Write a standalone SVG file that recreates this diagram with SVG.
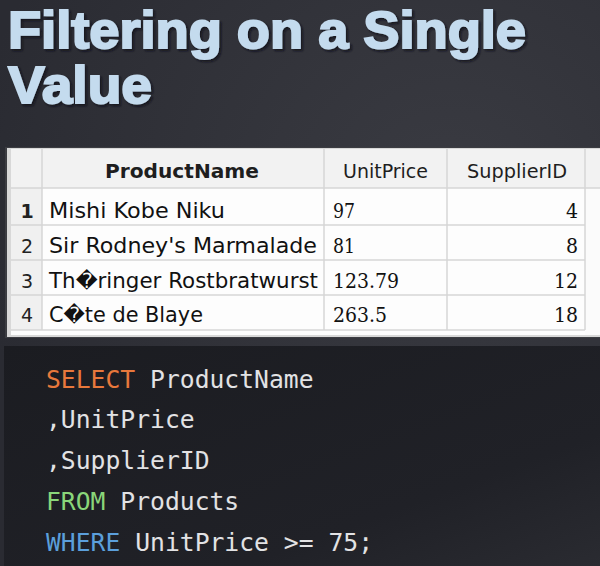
<svg xmlns="http://www.w3.org/2000/svg" width="600" height="566" viewBox="0 0 600 566">
  <defs>
    <radialGradient id="bg" cx="0.75" cy="0.35" r="0.8">
      <stop offset="0" stop-color="#3a3b42"/>
      <stop offset="1" stop-color="#2a2b32"/>
    </radialGradient>
    <linearGradient id="code" x1="0" y1="0" x2="1" y2="1">
      <stop offset="0" stop-color="#1b1c21"/>
      <stop offset="0.7" stop-color="#202127"/>
      <stop offset="1" stop-color="#2a2b31"/>
    </linearGradient>
    <filter id="shadow" x="-5%" y="-20%" width="110%" height="150%">
      <feDropShadow dx="2" dy="2" stdDeviation="1" flood-color="#0e0f12" flood-opacity="0.8"/>
    </filter>
    <style>
      .title { font-family: "Liberation Sans", Arial, sans-serif; font-weight: bold; font-size: 52px; fill: #c4dbee; stroke: #c4dbee; stroke-width: 2px; }
      .hdr { font-family: "DejaVu Sans", "Noto Sans", sans-serif; font-size: 19px; fill: #1e1e1e; }
      .cell { font-family: "DejaVu Sans", "Noto Sans", sans-serif; font-size: 21px; fill: #111; }
      .num { font-family: "DejaVu Serif Condensed", "DejaVu Serif", serif; font-size: 21px; fill: #111; }
      .rn { font-family: "DejaVu Sans", sans-serif; font-size: 19px; fill: #222; text-anchor: middle; }
      .grid { stroke: #d6d6d6; stroke-width: 1.5; }
      .code { font-family: "DejaVu Sans Mono", "Liberation Mono", monospace; font-size: 24.7px; fill: #e2e2e4; }
      .kw1 { fill: #e8783c; }
      .kw2 { fill: #8ad67a; }
      .kw3 { fill: #5b9fdb; }
    </style>
  </defs>

  <rect x="0" y="0" width="600" height="566" fill="url(#bg)"/>

  <g id="title" filter="url(#shadow)">
    <text class="title" x="8" y="48" textLength="518" lengthAdjust="spacingAndGlyphs">Filtering on a Single</text>
    <text class="title" x="8" y="103" textLength="144" lengthAdjust="spacingAndGlyphs">Value</text>
  </g>

  <g id="table">
    <rect x="5" y="147" width="595" height="191" fill="#3c3d42"/>
    <rect x="7" y="148" width="593" height="189" fill="#d8d8d8"/>
    <rect x="11" y="149" width="589" height="186" fill="#fdfdfd"/>
    <rect x="11" y="149" width="589" height="39" fill="#f2f2f2"/>
    <rect x="11" y="188" width="31" height="142" fill="#f0f0f0"/>
    <rect x="585" y="188" width="15" height="147" fill="#fbfbfb"/>
    <line class="grid" x1="11" y1="188" x2="600" y2="188"/>
    <line class="grid" x1="11" y1="225" x2="585" y2="225"/>
    <line class="grid" x1="11" y1="260" x2="585" y2="260"/>
    <line class="grid" x1="11" y1="295" x2="585" y2="295"/>
    <line class="grid" x1="11" y1="330" x2="585" y2="330"/>
    <line class="grid" x1="42" y1="149" x2="42" y2="330"/>
    <line class="grid" x1="324" y1="149" x2="324" y2="330"/>
    <line class="grid" x1="447" y1="149" x2="447" y2="330"/>
    <line class="grid" x1="585" y1="149" x2="585" y2="330"/>

    <text class="hdr" x="105" y="178" font-weight="bold" textLength="154" lengthAdjust="spacingAndGlyphs">ProductName</text>
    <text class="hdr" x="343" y="178" textLength="85" lengthAdjust="spacingAndGlyphs">UnitPrice</text>
    <text class="hdr" x="467" y="178" textLength="100" lengthAdjust="spacingAndGlyphs">SupplierID</text>

    <text class="rn" x="27" y="218" font-weight="bold">1</text>
    <text class="rn" x="27" y="253">2</text>
    <text class="rn" x="27" y="288">3</text>
    <text class="rn" x="27" y="322">4</text>

    <text class="cell" x="49" y="218" textLength="176" lengthAdjust="spacingAndGlyphs">Mishi Kobe Niku</text>
    <text class="cell" x="49" y="253" textLength="268" lengthAdjust="spacingAndGlyphs">Sir Rodney's Marmalade</text>
    <text class="cell" x="49" y="288" textLength="269" lengthAdjust="spacingAndGlyphs">Th�ringer Rostbratwurst</text>
    <text class="cell" x="49" y="322" textLength="154" lengthAdjust="spacingAndGlyphs">C�te de Blaye</text>

    <text class="num" x="333" y="218" textLength="22" lengthAdjust="spacingAndGlyphs">97</text>
    <text class="num" x="333" y="253" textLength="22" lengthAdjust="spacingAndGlyphs">81</text>
    <text class="num" x="333" y="288" textLength="66" lengthAdjust="spacingAndGlyphs">123.79</text>
    <text class="num" x="333" y="322" textLength="54" lengthAdjust="spacingAndGlyphs">263.5</text>

    <text class="num" x="578" y="218" text-anchor="end">4</text>
    <text class="num" x="578" y="253" text-anchor="end">8</text>
    <text class="num" x="578" y="288" text-anchor="end">12</text>
    <text class="num" x="578" y="322" text-anchor="end">18</text>
  </g>

  <g id="code">
    <rect x="4" y="346" width="596" height="220" fill="url(#code)"/>
    <text class="code" x="46" y="388"><tspan class="kw1">SELECT</tspan> ProductName</text>
    <text class="code" x="46" y="428">,UnitPrice</text>
    <text class="code" x="46" y="469">,SupplierID</text>
    <text class="code" x="46" y="510"><tspan class="kw2">FROM</tspan> Products</text>
    <text class="code" x="46" y="551"><tspan class="kw3">WHERE</tspan> UnitPrice &gt;= 75;</text>
  </g>
</svg>
